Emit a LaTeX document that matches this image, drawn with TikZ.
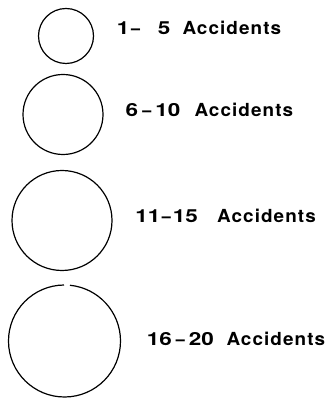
\documentclass[tikz,border=0pt]{standalone}
\usepackage{fontspec}
\newfontfamily\numfont{TeX Gyre Heros Bold}[FakeStretch=1.25]
\newfontfamily\dashfont{TeX Gyre Heros Bold}[FakeStretch=0.9]
\newfontfamily\wordfont{TeX Gyre Heros Bold}[FakeStretch=1.05,LetterSpace=6]
\tikzset{
  ring/.style={draw=black, line width=1.2pt},
  lbl/.style={anchor=base west, inner sep=0pt, font=\fontsize{18}{21}\numfont}
}
\newcommand{\acc}{{\wordfont Accidents}}
\newcommand{\dsh}{{\dashfont –}}
\begin{document}
\begin{tikzpicture}[x=1pt,y=1pt]
\useasboundingbox (0,0) rectangle (330,401);
\draw[ring] (66,365) circle (27.5);
\draw[ring] (63,286.5) circle (40);
\draw[ring] (62,180.5) circle (50);
\draw[ring] (64.5,60) ++(90.5:56) arc (90.5:444.4:56);
\node[lbl] (l1) at (116.7,366.7) {1\hspace{1.7pt}\dsh\hspace{17.8pt}5\hspace{12.1pt}\acc};
\node[lbl] (l2) at (125.3,284) {6\hspace{4.4pt}\dsh\hspace{3.9pt}10\hspace{14.2pt}\acc};
\node[lbl] (l3) at (135.1,178.7) {11\hspace{1.5pt}\dsh\hspace{2.1pt}15\hspace{19.2pt}\acc};
\node[lbl] (l4) at (146.7,55.3) {16\hspace{4pt}\dsh\hspace{4pt}20\hspace{12.6pt}\acc};
\end{tikzpicture}
\end{document}
